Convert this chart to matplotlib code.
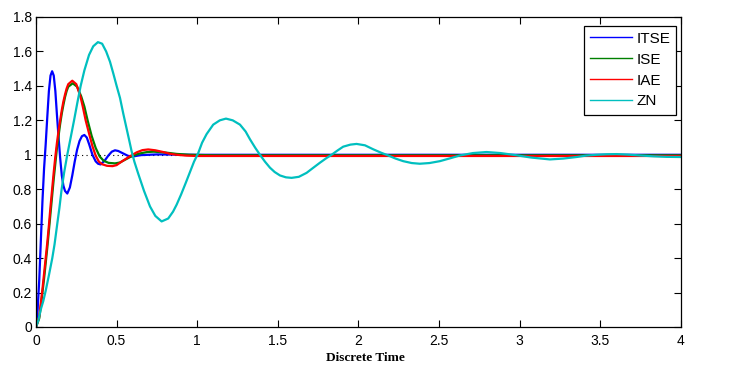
import matplotlib
matplotlib.use("Agg")
import matplotlib.pyplot as plt
from matplotlib.lines import Line2D
from matplotlib.ticker import FormatStrFormatter

# values
t_itse = [0, 0.01, 0.02, 0.03, 0.04, 0.05, 0.06, 0.07, 0.08, 0.09, 0.1, 0.11,
          0.12, 0.13, 0.14, 0.15, 0.16, 0.17, 0.18, 0.194, 0.21, 0.225, 0.24,
          0.255, 0.27, 0.285, 0.3, 0.315, 0.33, 0.35, 0.37, 0.385, 0.4, 0.425,
          0.45, 0.47, 0.49, 0.51, 0.54, 0.57, 0.6, 0.65, 0.75, 1.0, 2.0, 3.0, 4.0]
y_itse = [0, 0.1, 0.27, 0.5, 0.73, 0.92, 1.06, 1.22, 1.37, 1.46, 1.485, 1.46,
          1.37, 1.23, 1.1, 0.98, 0.88, 0.82, 0.79, 0.775, 0.81, 0.88, 0.96,
          1.03, 1.08, 1.108, 1.115, 1.1, 1.06, 1.0, 0.962, 0.948, 0.944, 0.965,
          0.997, 1.018, 1.026, 1.022, 1.008, 0.994, 0.99, 0.998, 1.002, 1.0, 1.0, 1.0, 1.0]

t_ise = [0, 0.02, 0.03, 0.04, 0.05, 0.06, 0.07, 0.08, 0.09, 0.1, 0.11, 0.12,
         0.13, 0.14, 0.15, 0.16, 0.17, 0.18, 0.19, 0.2, 0.228, 0.255, 0.28, 0.3,
         0.32, 0.345, 0.37, 0.395, 0.42, 0.45, 0.49, 0.52, 0.56, 0.6, 0.645,
         0.69, 0.73, 0.78, 0.83, 0.872, 0.95, 1.1, 4.0]
y_ise = [0, 0.05, 0.12, 0.2, 0.28, 0.37, 0.46, 0.56, 0.66, 0.76, 0.86, 0.95,
         1.04, 1.11, 1.18, 1.24, 1.29, 1.335, 1.37, 1.395, 1.415, 1.395, 1.34, 1.28,
         1.2, 1.11, 1.04, 0.99, 0.965, 0.953, 0.95, 0.955, 0.975, 0.995, 1.008,
         1.016, 1.018, 1.015, 1.01, 1.005, 1.0, 0.997, 0.997]

t_iae = [0, 0.02, 0.03, 0.04, 0.05, 0.06, 0.07, 0.08, 0.09, 0.1, 0.11, 0.12,
         0.13, 0.14, 0.15, 0.16, 0.17, 0.18, 0.19, 0.2, 0.225, 0.25, 0.277, 0.29,
         0.308, 0.33, 0.35, 0.37, 0.39, 0.41, 0.44, 0.475, 0.5, 0.535, 0.58,
         0.624, 0.66, 0.696, 0.74, 0.789, 0.83, 0.872, 0.934, 1.0, 4.0]
y_iae = [0, 0.06, 0.14, 0.22, 0.31, 0.4, 0.49, 0.59, 0.7, 0.8, 0.9, 0.99,
         1.07, 1.14, 1.2, 1.26, 1.31, 1.35, 1.385, 1.41, 1.43, 1.41, 1.333, 1.28,
         1.2, 1.12, 1.05, 0.995, 0.96, 0.945, 0.936, 0.934, 0.94, 0.963, 0.99,
         1.014, 1.027, 1.031, 1.026, 1.016, 1.006, 1.0, 0.995, 0.993, 0.993]

t_zn = [0, 0.015, 0.029, 0.045, 0.06, 0.08, 0.101, 0.115, 0.132, 0.145, 0.159,
        0.175, 0.194, 0.215, 0.236, 0.256, 0.277, 0.3, 0.329, 0.355, 0.384, 0.41,
        0.435, 0.459, 0.48, 0.5, 0.521, 0.541, 0.56, 0.579, 0.593, 0.61, 0.634,
        0.67, 0.707, 0.74, 0.779, 0.82, 0.85, 0.872, 0.9, 0.93, 0.955, 0.98,
        1.006, 1.03, 1.058, 1.099, 1.14, 1.178, 1.22, 1.265, 1.3, 1.327, 1.36,
        1.389, 1.42, 1.451, 1.48, 1.513, 1.55, 1.585, 1.63, 1.678, 1.72, 1.761,
        1.8, 1.833, 1.87, 1.905, 1.95, 1.988, 2.04, 2.091, 2.14, 2.184, 2.23,
        2.277, 2.33, 2.38, 2.44, 2.505, 2.57, 2.629, 2.71, 2.794, 2.88, 2.959,
        3.07, 3.187, 3.27, 3.352, 3.41, 3.476, 3.54, 3.6, 3.67, 3.745, 3.83,
        3.91, 4.0]
y_zn = [0, 0.04, 0.1, 0.15, 0.21, 0.3, 0.4, 0.48, 0.6, 0.69, 0.8,
        0.9, 1.0, 1.1, 1.2, 1.3, 1.4, 1.49, 1.58, 1.63, 1.654, 1.645,
        1.6, 1.54, 1.47, 1.4, 1.33, 1.24, 1.16, 1.08, 1.02, 0.96, 0.89,
        0.79, 0.7, 0.645, 0.613, 0.63, 0.67, 0.71, 0.77, 0.84, 0.9, 0.96,
        1.01, 1.07, 1.12, 1.175, 1.2, 1.21, 1.2, 1.175, 1.135, 1.09, 1.04,
        1.0, 0.96, 0.925, 0.9, 0.88, 0.869, 0.866, 0.872, 0.895, 0.925, 0.954,
        0.98, 1.0, 1.025, 1.047, 1.059, 1.063, 1.055, 1.032, 1.012, 0.996, 0.978,
        0.963, 0.952, 0.948, 0.952, 0.963, 0.98, 0.996, 1.01, 1.016, 1.01, 1.0,
        0.984, 0.973, 0.978, 0.987, 0.995, 1.0, 1.003, 1.004, 1.001, 0.996, 0.991,
        0.988, 0.987]

labels = ["ITSE", "ISE", "IAE", "ZN"]
colors = ["#0000ff", "#008000", "#ff0000", "#00bfbf"]
ref_level = 1.0
ref_span = [0.06, 4.0]
x_ticks = [0, 0.5, 1, 1.5, 2, 2.5, 3, 3.5, 4]
y_ticks = [0, 0.2, 0.4, 0.6, 0.8, 1.0, 1.2, 1.4, 1.6, 1.8]

narrow = ["Liberation Sans Narrow", "Liberation Sans", "DejaVu Sans"]

fig = plt.figure(figsize=(7.56, 3.68), dpi=100)
ax = fig.add_axes([36 / 756, 41 / 368, 645 / 756, 310 / 368])

# dotted steady-state line
ax.plot(ref_span, [ref_level, ref_level], color="black", ls=(0, (1, 3)), lw=0.8)

series = [(t_itse, y_itse), (t_ise, y_ise), (t_iae, y_iae), (t_zn, y_zn)]
for (t, y), c in zip(series, colors):
    ax.plot(t, y, color=c, lw=1.6)

ax.set_xlim(0, 4)
ax.set_ylim(0, 1.8)
ax.set_xticks(x_ticks)
ax.set_yticks(y_ticks)
ax.xaxis.set_major_formatter(FormatStrFormatter("%g"))
ax.yaxis.set_major_formatter(FormatStrFormatter("%g"))
ax.tick_params(direction="in", top=True, right=True, length=5, width=0.8,
               labelsize=10)
ax.tick_params(axis="x", pad=5)
ax.tick_params(axis="y", pad=3)
for lab in ax.get_xticklabels() + ax.get_yticklabels():
    lab.set_family(narrow)
for sp in ax.spines.values():
    sp.set_linewidth(0.9)

ax.set_xlabel("Discrete Time", family="Liberation Serif", fontweight="bold",
              fontsize=9.5, labelpad=2)
ax.xaxis.set_label_coords(0.511, -0.08)

handles = [Line2D([], [], color=c, lw=1) for c in colors]
leg = ax.legend(handles, labels, loc="upper right",
                bbox_to_anchor=(0.993, 0.972), borderaxespad=0,
                fancybox=False, framealpha=1, edgecolor="black",
                prop={"family": "Liberation Sans", "size": 11},
                handlelength=2.75, handletextpad=0.3, labelspacing=0.45,
                borderpad=0.4)
leg.get_frame().set_linewidth(0.9)

fig.savefig("out.png", dpi=100)
